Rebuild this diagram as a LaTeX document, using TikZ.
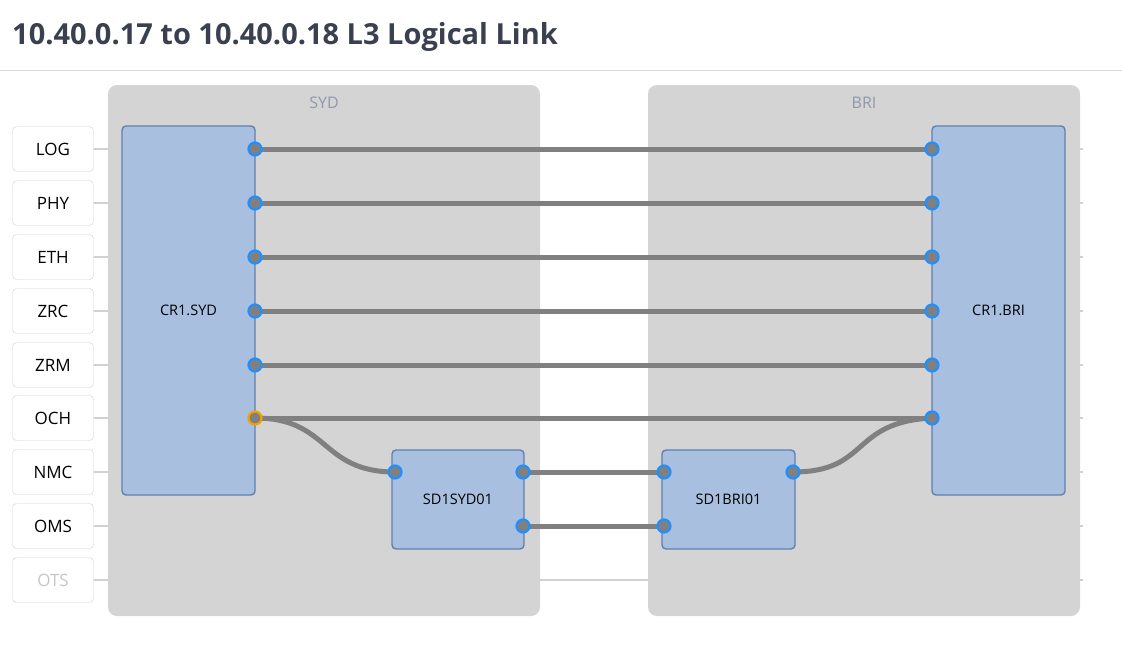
\documentclass[tikz,border=0pt]{standalone}
\usepackage{fontspec}
\setmainfont{Open Sans}
\usepackage{tikz}
\usetikzlibrary{positioning}

\definecolor{groupFill}{RGB}{212,212,212}
\definecolor{nodeFill}{RGB}{169,191,224}
\definecolor{nodeDraw}{RGB}{96,128,176}
\definecolor{linkColor}{RGB}{128,128,128}
\definecolor{portBlue}{RGB}{30,144,255}
\definecolor{portOrange}{RGB}{240,160,0}
\definecolor{titleColor}{RGB}{58,64,80}
\definecolor{siteText}{RGB}{144,152,176}

\tikzset{
  group/.style={fill=groupFill, rounded corners=9pt},
  device/.style={draw=nodeDraw, fill=nodeFill, line width=1.4pt, rounded corners=4pt, font=\fontsize{14.5}{16}\selectfont},
  layer/.style={draw=black!18, fill=white, rounded corners=4pt, minimum width=81pt, minimum height=45pt, font=\fontsize{17}{18}\selectfont},
  port/.style={circle, draw=portBlue, fill=linkColor, line width=2.2pt, inner sep=0pt, minimum size=13pt},
  link/.style={draw=linkColor, line width=5pt},
  rowline/.style={draw=black!18, line width=2pt}
}

\begin{document}
\begin{tikzpicture}[x=1pt,y=-1pt]
\useasboundingbox (0,0) rectangle (1122,645);
\node[anchor=west, inner sep=0pt, font=\fontsize{29}{32}\selectfont\bfseries, text=titleColor] (title) at (12,37) {10.40.0.17 to 10.40.0.18 L3 Logical Link};
\draw[black!15, line width=1pt] (0,70) -- (1122,70);
% layer rows
\foreach \name/\lbl/\y in {log/LOG/149,phy/PHY/203,eth/ETH/257,zrc/ZRC/311,zrm/ZRM/365,och/OCH/418,nmc/NMC/472,oms/OMS/526}
{
  \draw[rowline] (93,\y) -- (110,\y);
  \draw[rowline] (1080,\y) -- (1083,\y);
  \node[layer] (\name) at (53,\y) {\lbl};
}
\draw[rowline] (93,580) -- (110,580);
\draw[rowline] (540,580) -- (648,580);
\draw[rowline] (1080,580) -- (1083,580);
\node[layer, text=black!22] (ots) at (53,580) {OTS};
% sites
\fill[group] (108,85) rectangle (540,616);
\fill[group] (648,85) rectangle (1080,616);
\node[text=siteText, font=\fontsize{16}{17}\selectfont] (syd) at (324,103) {SYD};
\node[text=siteText, font=\fontsize{16}{17}\selectfont] (bri) at (864,103) {BRI};
% devices
\node[device, minimum width=133pt, minimum height=369pt] (cr1syd) at (188.5,310.5) {CR1.SYD};
\node[device, minimum width=133pt, minimum height=369pt] (cr1bri) at (998.5,310.5) {CR1.BRI};
\node[device, minimum width=132pt, minimum height=99pt] (sdsyd) at (458,499.5) {SD1SYD01};
\node[device, minimum width=133pt, minimum height=99pt] (sdbri) at (728.5,499.5) {SD1BRI01};
% links between routers
\foreach \i/\y in {1/149,2/203,3/257,4/311,5/365,6/418}
{
  \coordinate (a\i) at (255,\y);
  \coordinate (b\i) at (932,\y);
  \draw[link] (a\i) -- (b\i);
}
\coordinate (s1) at (395,472);
\coordinate (s2) at (523,472);
\coordinate (s3) at (523,526);
\coordinate (t1) at (664,472);
\coordinate (t2) at (664,526);
\coordinate (t3) at (793,472);
\draw[link] (a6) .. controls (330,418) and (320,472) .. (s1);
\draw[link] (s2) -- (t1);
\draw[link] (s3) -- (t2);
\draw[link] (t3) .. controls (870,472) and (850,422) .. (b6);
% ports
\foreach \p in {a1,a2,a3,a4,a5,b1,b2,b3,b4,b5,b6,s1,s2,s3,t1,t2,t3}
  \node[port] at (\p) {};
\node[port, draw=portOrange] at (a6) {};
\end{tikzpicture}
\end{document}
